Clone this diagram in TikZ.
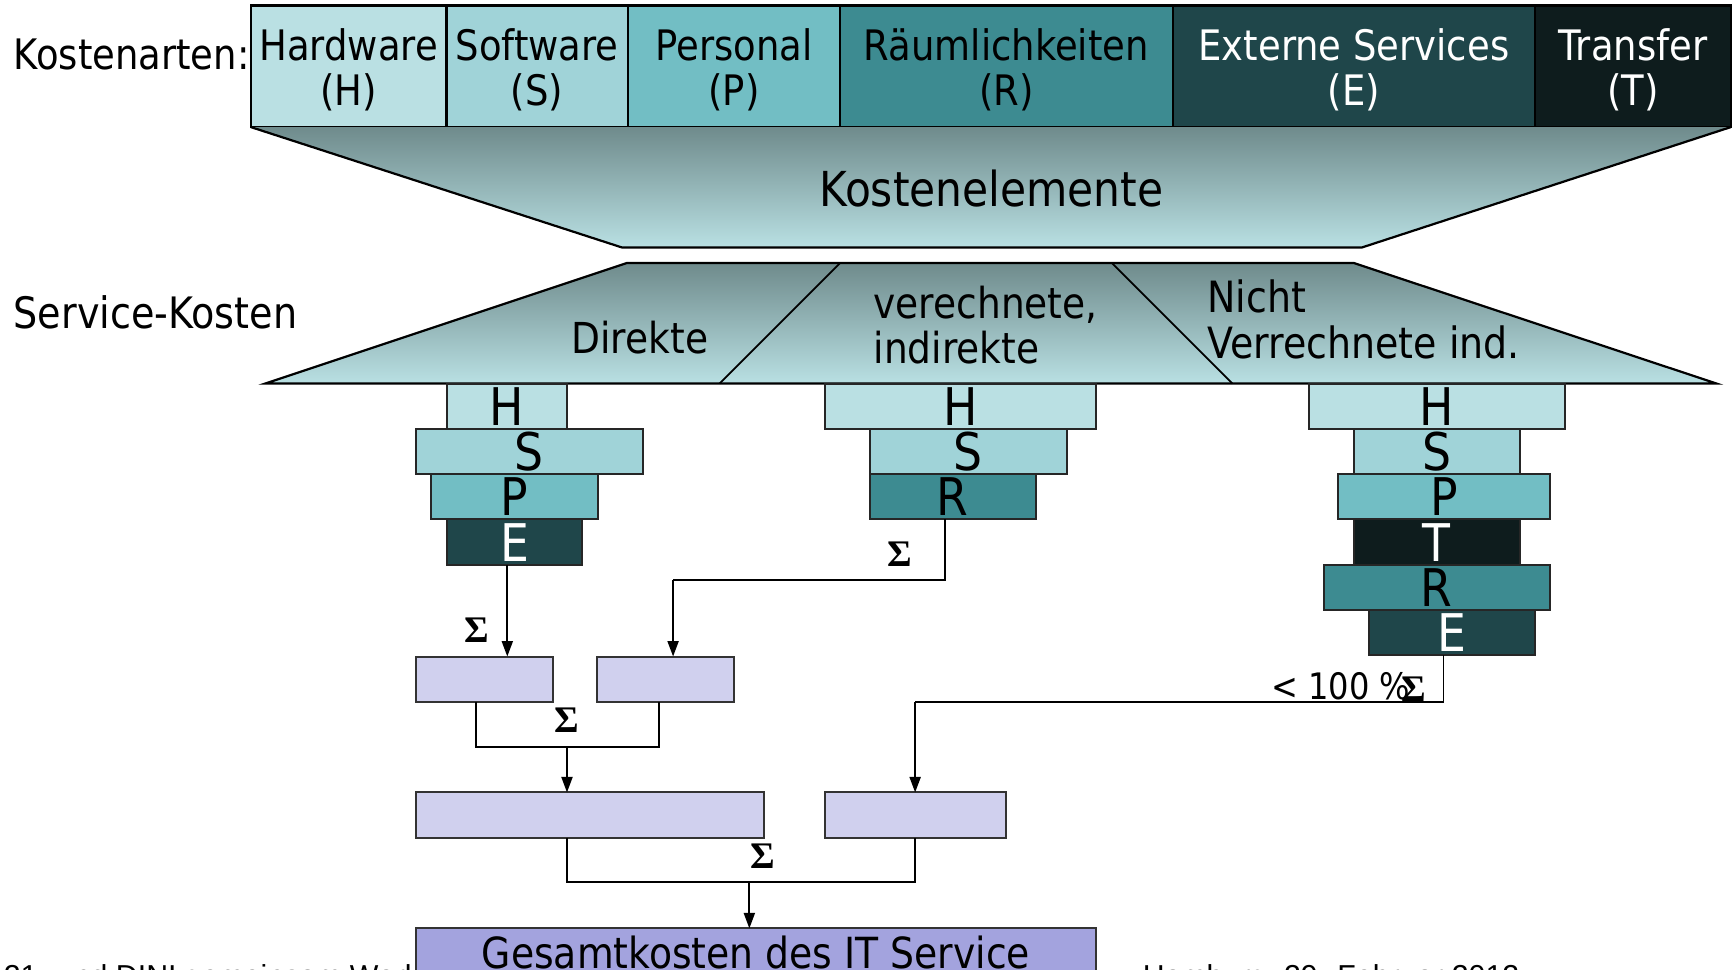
\documentclass[tikz,border=0pt]{standalone}
\usepackage{fontspec}
\setmainfont{DejaVu Sans}[FakeStretch=0.88]
\newfontfamily\sigfont{Liberation Serif}
\newfontfamily\footfont{Liberation Sans}
\usetikzlibrary{arrows.meta}
\definecolor{hwc}{HTML}{BAE0E3}
\definecolor{swc}{HTML}{A0D3D8}
\definecolor{pec}{HTML}{72BEC4}
\definecolor{rac}{HTML}{3D8B91}
\definecolor{exc}{HTML}{1F464A}
\definecolor{trc}{HTML}{0E1C1D}
\definecolor{lavc}{HTML}{D0D0EE}
\definecolor{finc}{HTML}{A3A3DE}
\definecolor{gtop}{HTML}{6F8B8C}
\definecolor{gbot}{HTML}{B9E0E3}
\newcommand\myBox[7]{\node[#2, minimum width={(#5-#3)*0.5pt}, minimum height={(#6-#4)*0.5pt}] (#1) at ({(#3+#5)/2},{(#4+#6)/2}) {#7};}
\newcommand\stru{\rule{0pt}{17.5pt}}
\tikzset{
  cell/.style={draw=black, line width=1pt, inner sep=0pt, outer sep=0pt, align=center, font=\fontsize{19}{20.5}\selectfont},
  blk/.style={draw=black!85, line width=0.9pt, inner sep=0pt, outer sep=0pt, font=\fontsize{23.5}{23.5}\selectfont},
  lav/.style={draw=black!80, fill=lavc, line width=0.9pt, inner sep=0pt, outer sep=0pt},
  ln/.style={line width=0.8pt},
  arr/.style={line width=0.8pt, -{Triangle[length=7pt,width=5pt]}},
  sig/.style={font=\sigfont\bfseries\fontsize{17}{17}\selectfont, inner sep=0pt},
  lbl/.style={font=\fontsize{19.3}{20.5}\selectfont, inner sep=0pt, align=left},
  foot/.style={font=\footfont\fontsize{13.7}{13.7}\selectfont, inner sep=0pt},
}
\begin{document}
\begin{tikzpicture}[x=0.5pt,y=-0.5pt]
\useasboundingbox (0,0) rectangle (1568,877);
\clip (0,0) rectangle (1568,877);
% footer (mostly cut off)
\node[foot, anchor=base west] (footL) at (3,893) {21. und DINI gemeinsam Workshop};
\node[foot, anchor=base east] (footR) at (1375,893) {Hamburg, 29. Februar 2012};
% top bar
\node[lbl, font=\fontsize{19}{20.5}\selectfont, anchor=west] (kart) at (12,49) {Kostenarten:};
\myBox{kH}{cell, fill=hwc}{227}{5}{404}{115}{\stru Hardware\\(H)}
\myBox{kS}{cell, fill=swc}{404}{5}{568}{115}{\stru Software\\(S)}
\myBox{kP}{cell, fill=pec}{568}{5}{760}{115}{\stru Personal\\(P)}
\myBox{kR}{cell, fill=rac}{760}{5}{1061}{115}{\stru Räumlichkeiten\\(R)}
\myBox{kE}{cell, fill=exc, text=white}{1061}{5}{1389}{115}{\stru Externe Services\\(E)}
\myBox{kT}{cell, fill=trc, text=white}{1389}{5}{1566}{115}{\stru Transfer\\(T)}
% Kostenelemente trapezoid
\shade[top color=gtop, bottom color=gbot] (227,115) -- (1566,115) -- (1232,224) -- (563,224) -- cycle;
\draw[line width=1pt] (227,115) -- (563,224) -- (1232,224) -- (1566,115);
\node[font=\fontsize{21.8}{22}\selectfont, inner sep=0pt] (kel) at (897,171) {Kostenelemente};
% Service-Kosten trapezoid
\node[lbl, font=\fontsize{19.6}{21}\selectfont, anchor=west] (skost) at (12,283) {Service-Kosten};
\shade[top color=gtop, bottom color=gbot] (567,238) -- (1225,238) -- (1553,347) -- (240,347) -- cycle;
\draw[line width=1pt] (567,238) -- (1225,238) -- (1553,347) -- (240,347) -- cycle;
\draw[line width=0.8pt] (760,238) -- (651,347);
\draw[line width=0.8pt] (1006,238) -- (1115,347);
\node[lbl] (dir) at (579,305) {Direkte};
\node[lbl, anchor=west] (ver) at (790,294) {verechnete,\\indirekte};
\node[lbl, font=\fontsize{19.5}{20.5}\selectfont, anchor=west] (nver) at (1092,289) {Nicht\\Verrechnete ind.};
% column 1
\myBox{dH}{blk, fill=hwc}{404}{347}{513}{388}{H}
\myBox{dS}{blk, fill=swc}{376}{388}{582}{429}{S}
\myBox{dP}{blk, fill=pec}{390}{429}{541}{470}{P}
\myBox{dE}{blk, fill=exc, text=white}{404}{470}{527}{511}{E}
% column 2
\myBox{vH}{blk, fill=hwc}{746}{347}{992}{388}{H}
\myBox{vS}{blk, fill=swc}{787}{388}{965}{429}{S}
\myBox{vR}{blk, fill=rac}{787}{429}{937}{470}{R}
% column 3
\myBox{nH}{blk, fill=hwc}{1184}{347}{1416}{388}{H}
\myBox{nS}{blk, fill=swc}{1225}{388}{1375}{429}{S}
\myBox{nP}{blk, fill=pec}{1211}{429}{1402}{470}{P}
\myBox{nT}{blk, fill=trc, text=white}{1225}{470}{1375}{511}{T}
\myBox{nR}{blk, fill=rac}{1198}{511}{1402}{552}{R}
\myBox{nE}{blk, fill=exc, text=white}{1239}{552}{1389}{593}{E}
% lower boxes
\myBox{a1}{lav}{376}{594}{500}{635}{}
\myBox{a2}{lav}{540}{594}{664}{635}{}
\myBox{b1}{lav}{376}{717}{691}{758}{}
\myBox{b2}{lav}{746}{717}{910}{758}{}
\myBox{fin}{lav, fill=finc}{376}{840}{992}{912}{}
\node[font=\fontsize{19.4}{20}\selectfont, inner sep=0pt] (fintxt) at (684,862) {Gesamtkosten des IT Service};
% knee coordinates
\coordinate (x1) at (459,0);
\coordinate (k2) at (855,525);
\coordinate (x2) at (609,0);
\coordinate (xa1) at (431,0);
\coordinate (xa2) at (596,0);
\coordinate (j1) at (513,676);
\coordinate (k4) at (1306,635);
\coordinate (j2) at (678,798);
% connectors
\draw[arr] (dE.south -| x1) -- (a1.north -| x1);
\draw[ln] (vR.south -| k2) -- (k2) -- (k2 -| x2);
\draw[arr] (k2 -| x2) -- (a2.north -| x2);
\draw[ln] (a1.south -| xa1) |- (j1) -| (a2.south -| xa2);
\draw[arr] (j1) -- (b1.north -| j1);
\draw[ln] (nE.south -| k4) -- (k4) -- (k4 -| b2);
\draw[arr] (k4 -| b2) -- (b2.north);
\draw[ln] (b1.south -| j1) |- (j2) -| (b2.south);
\draw[arr] (j2) -- (fin.north -| j2);
% sigma labels
\node[sig] (s1) at (431,570) {Σ};
\node[sig] (s2) at (814,501) {Σ};
\node[sig] (s3) at (513,652) {Σ};
\node[font=\fontsize{16.5}{16.5}\selectfont, inner sep=0pt] (pct) at (1213,621) {< 100 \%};
\node[sig] (s4) at (1279,624) {Σ};
\node[sig] (s5) at (690,775) {Σ};
\end{tikzpicture}
\end{document}
